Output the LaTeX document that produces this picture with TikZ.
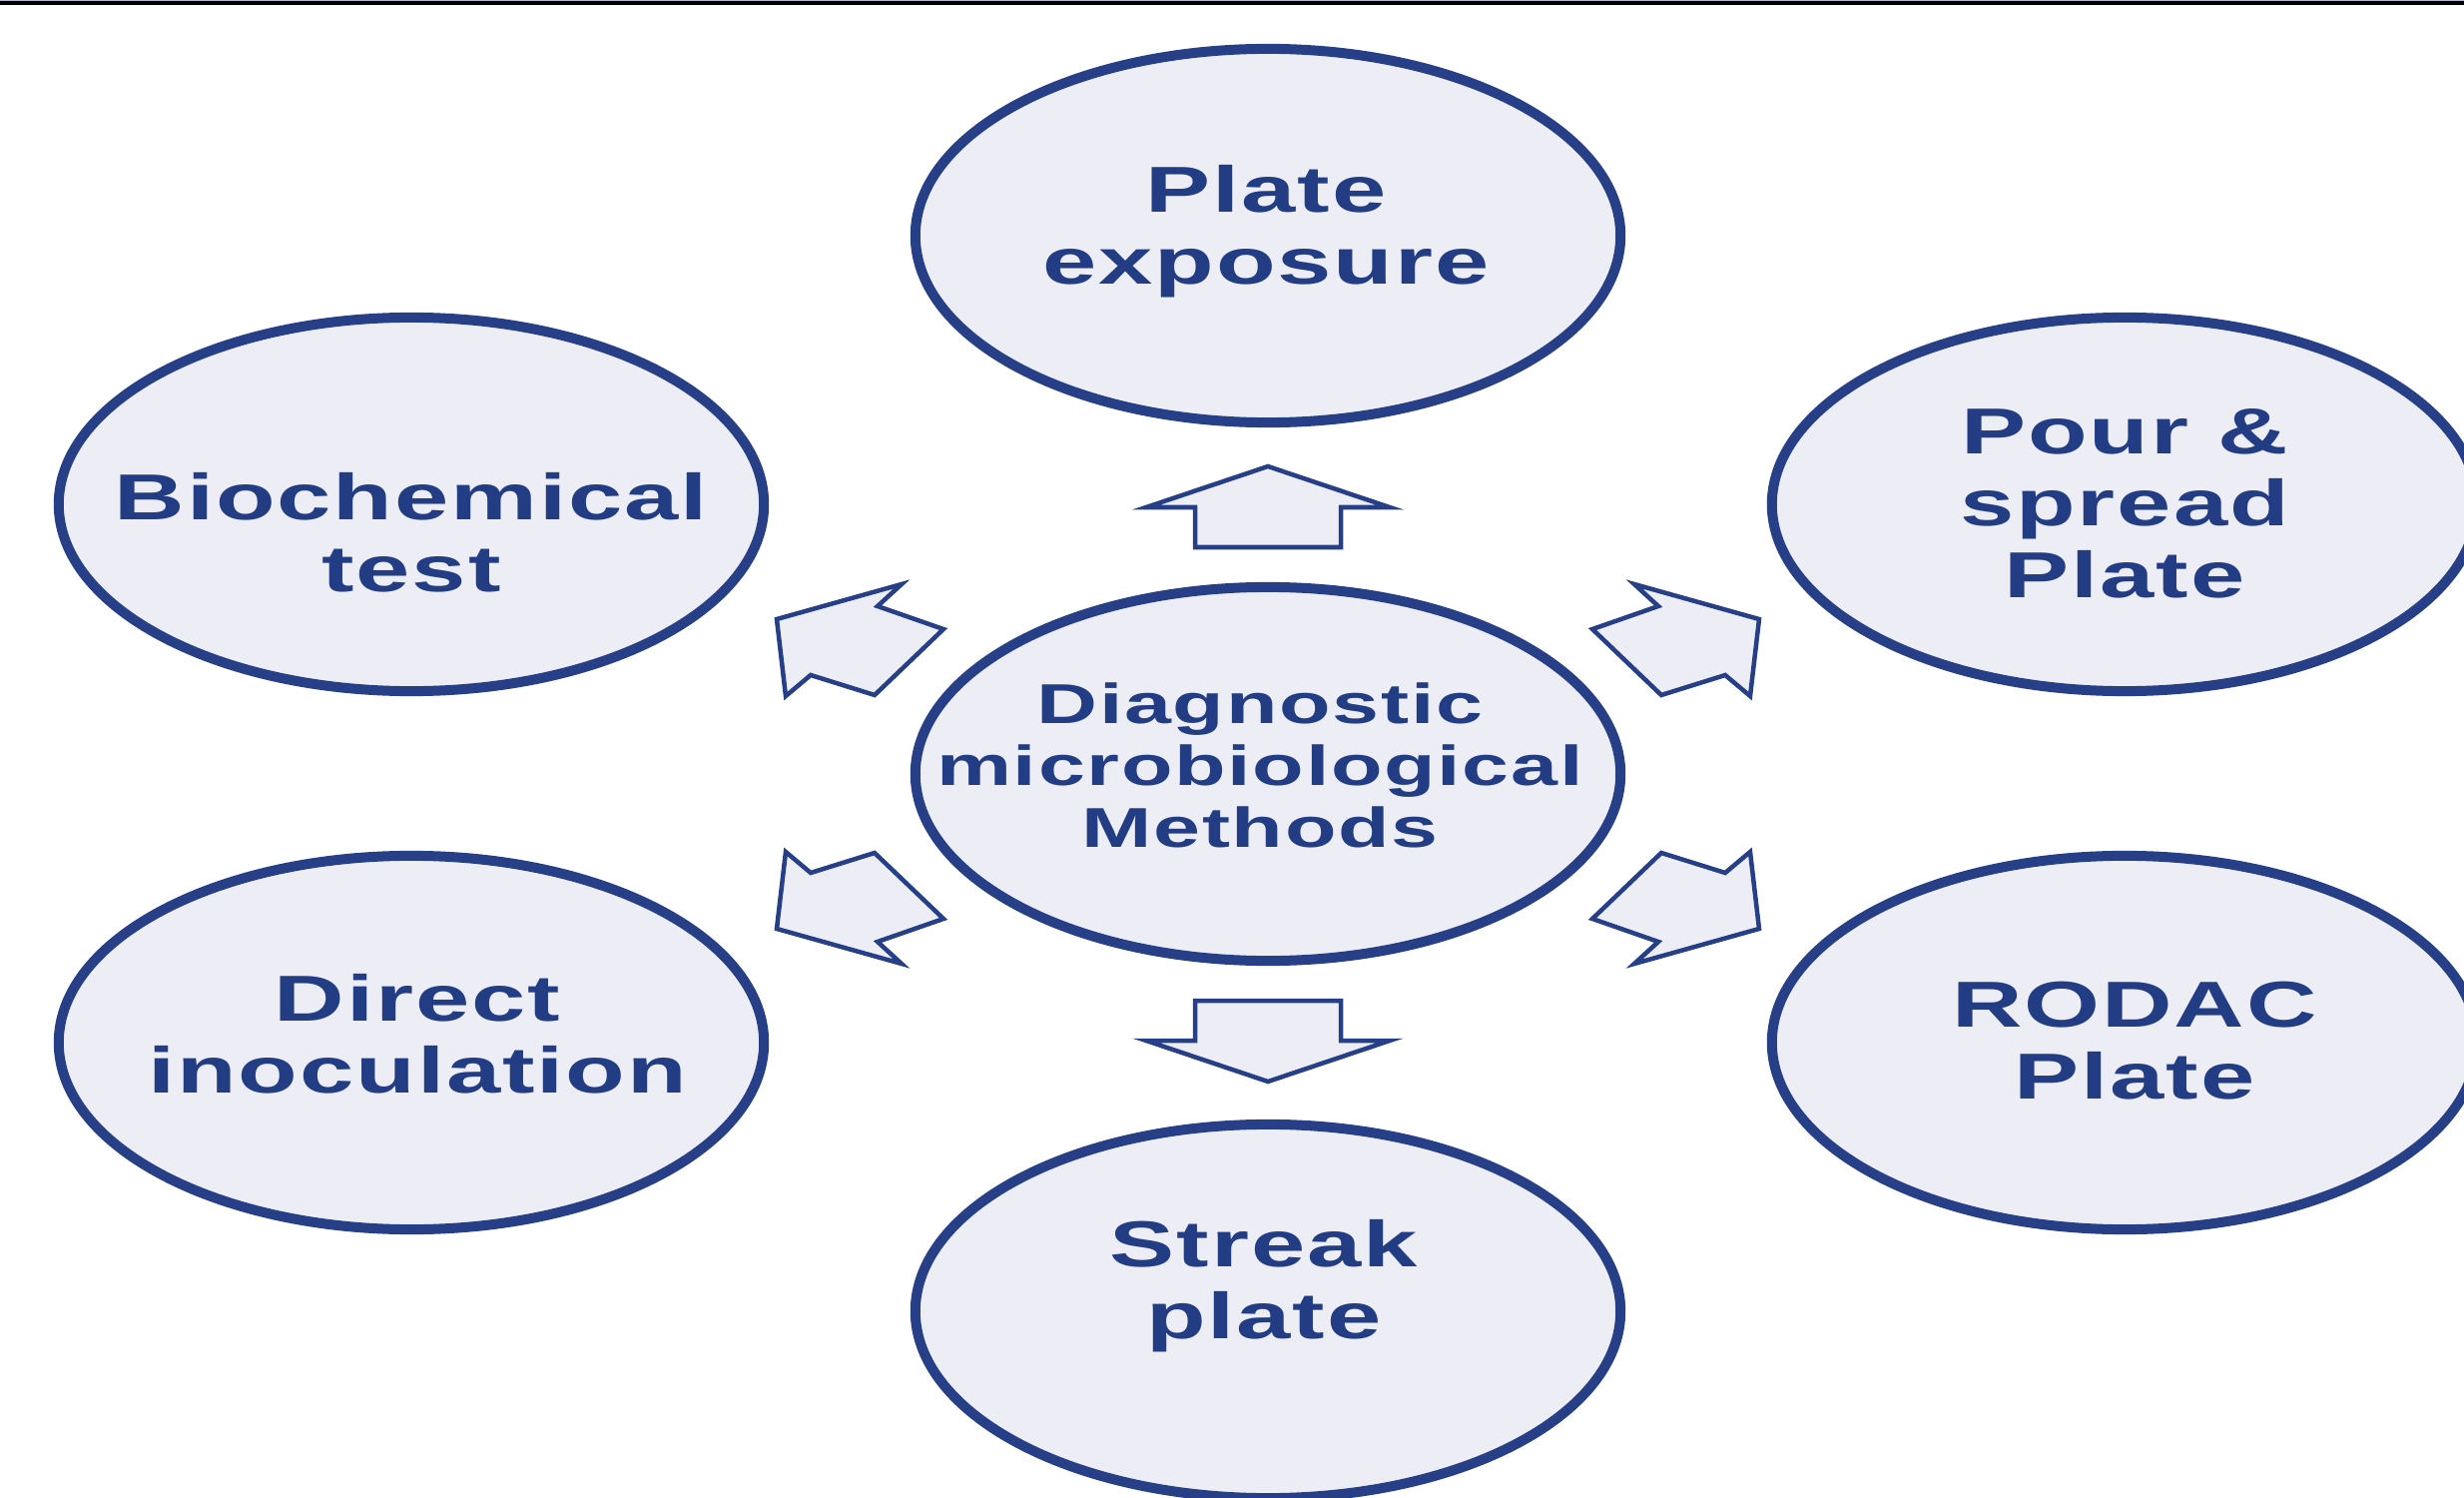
\documentclass[tikz,border=0pt]{standalone}
\usepackage{fontspec}
\newfontfamily\lblfont{Liberation Sans}[FakeStretch=1.5,LetterSpace=3]
\usetikzlibrary{shapes.geometric}
\definecolor{ringblue}{HTML}{263F87}
\definecolor{txtblue}{HTML}{233D84}
\definecolor{paleblue}{HTML}{EDEEF5}
\definecolor{stripgray}{HTML}{B4B6CE}
\tikzset{
  method/.style={ellipse,draw=ringblue,fill=paleblue,line width=0.1cm,
    minimum width=7.06cm,minimum height=3.74cm,inner sep=0pt},
  methodtext/.style={align=center,text=txtblue,inner sep=0pt,
    font=\lblfont\bfseries\fontsize{18.5}{20.5}\selectfont},
  hubtext/.style={methodtext,font=\lblfont\bfseries\fontsize{16}{17.6}\selectfont},
  blockarrow/.style={draw=ringblue,fill=paleblue,line width=0.045cm,line join=miter}
}
\begin{document}
\begin{tikzpicture}[x=0.01cm,y=-0.01cm]
  \useasboundingbox (0,0) rectangle (2468,1500);
  \fill[stripgray] (0,0) rectangle (2468,1);
  \fill[black] (0,1) rectangle (2468,5);
  % the seven ellipses
  \node[method] (ctr) at (1270,775) {};
  \node[method] (exposure) at (1270,236) {};
  \node[method] (streak) at (1270,1313) {};
  \node[method] (biochem) at (412,505) {};
  \node[method] (direct) at (412,1044) {};
  \node[method] (pour) at (2128,505) {};
  \node[method] (rodac) at (2128,1044) {};
  % block arrows out of the hub
  \foreach \sy in {1,-1}
    \draw[blockarrow,shift={(ctr.center)},yscale=\sy]
      (0,-308) -- (122,-267) -- (73,-267) -- (73,-227) -- (-73,-227)
      -- (-73,-267) -- (-122,-267) -- cycle;
  \foreach \sx/\sy in {1/1,-1/1,1/-1,-1/-1}
    \draw[blockarrow,shift={(ctr.center)},xscale=\sx,yscale=\sy]
      (-492,-155) -- (-483,-78) -- (-458,-99) -- (-394,-79) -- (-325,-145)
      -- (-391,-168) -- (-367,-190) -- cycle;
  % labels
  \node[hubtext] (ctrtxt) at (1262,766) {Diagnostic\\microbiological\\Methods};
  \node[methodtext] (exposuretxt) at (1268,232) {Plate\\exposure};
  \node[methodtext] (streaktxt) at (1266,1288) {Streak\\plate};
  \node[methodtext] (biochemtxt) at (412,533) {Biochemical\\test};
  \node[methodtext] (directtxt) at (418,1035) {Direct\\inoculation};
  \node[methodtext] (pourtxt) at (2128,504) {Pour \&\\spread\\Plate};
  \node[methodtext] (rodactxt) at (2138,1042) {RODAC\\Plate};
\end{tikzpicture}
\end{document}
